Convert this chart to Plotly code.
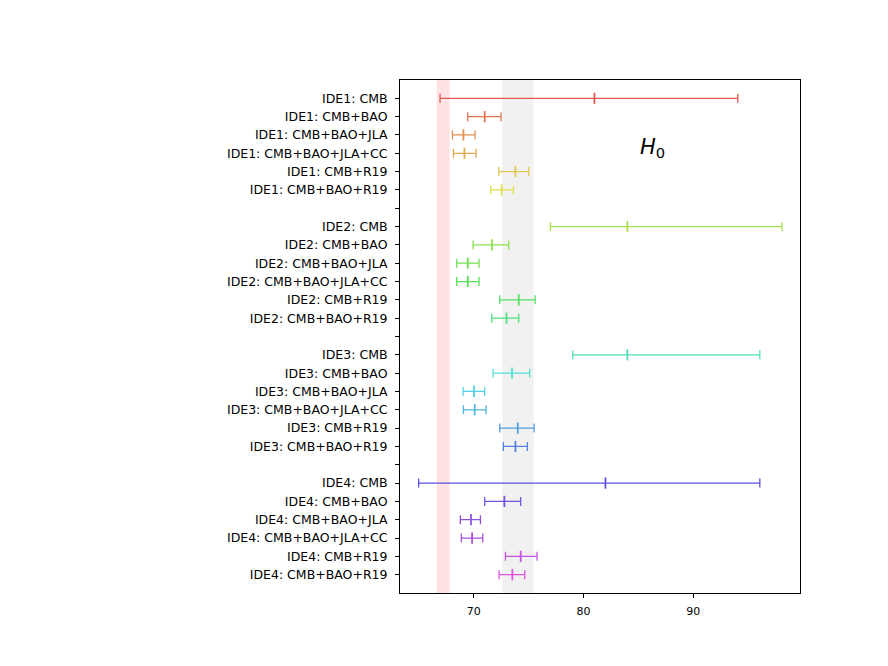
import colorsys
import plotly.graph_objects as go

# ---- data ----
groups = ["IDE1", "IDE2", "IDE3", "IDE4"]
datasets = ["CMB", "CMB+BAO", "CMB+BAO+JLA", "CMB+BAO+JLA+CC", "CMB+R19", "CMB+BAO+R19"]

h0_center = [
    81.0, 71.0, 69.06, 69.15, 73.8, 72.55,     # IDE1
    84.0, 71.67, 69.45, 69.45, 74.1, 72.98,    # IDE2
    84.0, 73.49, 70.03, 70.09, 74.01, 73.8,    # IDE3
    82.0, 72.79, 69.75, 69.85, 74.28, 73.52,   # IDE4
]
h0_low = [
    66.93, 69.45, 68.06, 68.15, 72.28, 71.55,
    76.99, 69.94, 68.45, 68.45, 72.37, 71.64,
    79.02, 71.76, 69.03, 69.06, 72.37, 72.7,
    64.98, 71.0, 68.78, 68.87, 72.89, 72.31,
]
h0_high = [
    94.06, 72.49, 70.12, 70.21, 75.01, 73.62,
    98.08, 73.19, 70.48, 70.48, 75.59, 74.1,
    96.07, 75.1, 71.0, 71.12, 75.5, 74.89,
    96.07, 74.28, 70.61, 70.82, 75.77, 74.65,
]

planck_band = [66.63, 67.81]
r19_band = [72.61, 75.45]
x_ticks = [70, 80, 90]
x_range = [63.28, 99.73]

# ---- build ----
fig = go.Figure()
tickvals, ticktext = [], []
row = 0
k = 0
for gi, g in enumerate(groups):
    for d in datasets:
        hue = (3.6 + row * 11.4) / 360.0
        r, gg, b = colorsys.hls_to_rgb(hue % 1.0, 0.6, 0.7)
        col = "rgb(%d,%d,%d)" % (round(r * 255), round(gg * 255), round(b * 255))
        c = h0_center[k]
        fig.add_trace(go.Scatter(
            x=[c], y=[row], mode="markers",
            marker=dict(symbol="line-ns", size=8, color=col,
                        line=dict(width=1.8, color=col)),
            error_x=dict(type="data", symmetric=False,
                         array=[h0_high[k] - c], arrayminus=[c - h0_low[k]],
                         color=col, thickness=1.3, width=4.5),
            showlegend=False, hoverinfo="x+y",
        ))
        tickvals.append(row)
        ticktext.append(f"{g}: {d}")
        row += 1
        k += 1
    if gi < len(groups) - 1:
        tickvals.append(row)
        ticktext.append(" ")
        row += 1

fig.add_shape(type="rect", xref="x", yref="paper", x0=planck_band[0], x1=planck_band[1],
              y0=0, y1=1, fillcolor="rgba(255,0,0,0.11)", line_width=0, layer="below")
fig.add_shape(type="rect", xref="x", yref="paper", x0=r19_band[0], x1=r19_band[1],
              y0=0, y1=1, fillcolor="rgba(128,128,128,0.11)", line_width=0, layer="below")

fig.add_annotation(x=86.3, y=2.7, xref="x", yref="y", text="<i>H</i><sub>0</sub>",
                   showarrow=False, font=dict(size=21, color="black", family="DejaVu Sans"))

fig.update_layout(
    width=888, height=666,
    margin=dict(l=392, r=96, t=72, b=81),
    paper_bgcolor="white", plot_bgcolor="white",
    font=dict(family="DejaVu Sans", color="black"),
    xaxis=dict(range=x_range, tickvals=x_ticks, ticks="outside", ticklen=4,
               tickcolor="black", showgrid=False, zeroline=False, showline=True,
               linecolor="black", linewidth=1, mirror=True, tickfont=dict(size=11),
               ticklabelstandoff=4),
    yaxis=dict(range=[row, -1], tickvals=tickvals, ticktext=ticktext, ticks="outside",
               ticklen=4, tickcolor="black", showgrid=False, zeroline=False, showline=True,
               linecolor="black", linewidth=1, mirror=True, tickfont=dict(size=12.5),
               ticklabelstandoff=5),
)

fig.write_html("out.html")
